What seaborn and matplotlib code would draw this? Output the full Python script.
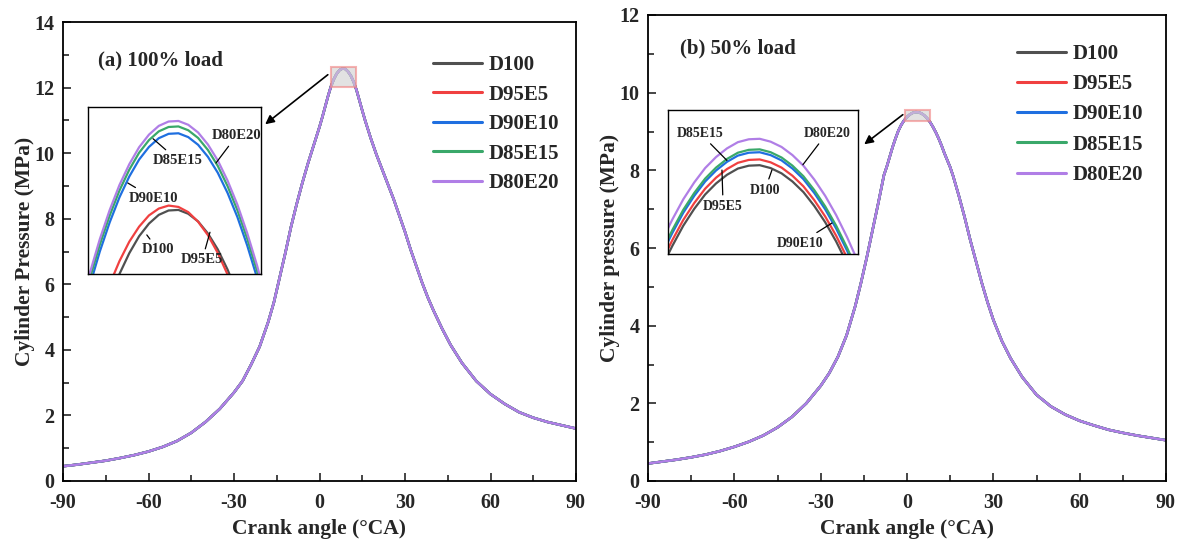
import numpy as np
import pandas as pd
import matplotlib
matplotlib.use('Agg')
import matplotlib.pyplot as plt
import seaborn as sns
from matplotlib.patches import Rectangle, FancyArrowPatch
from matplotlib.ticker import MultipleLocator

# ---------------- data ----------------
fuels = ['D100', 'D95E5', 'D90E10', 'D85E15', 'D80E20']
colors = ['#505050', '#f04040', '#1f6fe0', '#3aa86a', '#b07ee6']

# Panel (a) 100% load: main curve (all blends overlap at this scale)
main_angle_a = [-90, -85, -80, -75, -70, -65, -60, -55, -50, -45, -40, -35, -30, -27, -24, -21, -18, -16,
                -14, -12, -10, -8, -6, -4, -2, 0, 1, 2, 3, 4, 5, 6, 7, 8, 9, 10, 11, 12, 13, 14,
                15, 16, 18, 20, 22, 24, 26, 28, 30, 32, 34, 36, 38, 40, 43, 46, 50, 55, 60, 65,
                70, 75, 80, 85, 90]
main_press_a = [0.45, 0.50, 0.56, 0.62, 0.70, 0.79, 0.90, 1.04, 1.22, 1.47, 1.80, 2.20, 2.70, 3.05, 3.55, 4.10, 4.85, 5.45,
                6.20, 6.95, 7.75, 8.45, 9.10, 9.70, 10.25, 10.80, 11.10, 11.42, 11.74, 12.03, 12.25, 12.42, 12.53, 12.58, 12.57, 12.49, 12.36, 12.17, 11.92, 11.61,
                11.30, 11.00, 10.45, 9.95, 9.50, 9.05, 8.60, 8.10, 7.60, 7.05, 6.55, 6.05, 5.60, 5.20, 4.65, 4.15, 3.60, 3.05, 2.65, 2.35,
                2.10, 1.93, 1.80, 1.70, 1.60]

# Panel (a) inset: peak region per blend
inset_angle_a = [3.0, 3.5, 4.0, 4.5, 5.0, 5.5, 6.0, 6.5, 7.0, 7.5, 8.0, 8.5, 9.0, 9.5, 10.0, 10.5,
                 11.0, 11.5, 12.0, 12.5, 13.0, 13.5, 14.0]
peak_a_D100 = [11.412, 11.564, 11.700, 11.822, 11.928, 12.020, 12.096, 12.158, 12.204, 12.236, 12.252, 12.254,
               12.240, 12.212, 12.168, 12.110, 12.036, 11.948, 11.844, 11.726, 11.592, 11.444, 11.280]
peak_a_D95E5 = [11.490, 11.635, 11.766, 11.881, 11.982, 12.067, 12.138, 12.193, 12.234, 12.259, 12.270, 12.265,
                12.246, 12.211, 12.162, 12.097, 12.018, 11.923, 11.814, 11.689, 11.550, 11.395, 11.226]
peak_a_D90E10 = [11.692, 11.844, 11.980, 12.102, 12.208, 12.300, 12.376, 12.438, 12.484, 12.516, 12.532, 12.534,
                 12.520, 12.492, 12.448, 12.390, 12.316, 12.228, 12.124, 12.006, 11.872, 11.724, 11.560]
peak_a_D85E15 = [11.717, 11.869, 12.005, 12.127, 12.233, 12.325, 12.401, 12.463, 12.509, 12.541, 12.557, 12.559,
                 12.545, 12.517, 12.473, 12.415, 12.341, 12.253, 12.149, 12.031, 11.897, 11.749, 11.585]
peak_a_D80E20 = [11.737, 11.889, 12.025, 12.147, 12.253, 12.345, 12.421, 12.483, 12.529, 12.561, 12.577, 12.579,
                 12.565, 12.537, 12.493, 12.435, 12.361, 12.273, 12.169, 12.051, 11.917, 11.769, 11.605]

# Panel (b) 50% load: main curve
main_angle_b = [-90, -85, -80, -75, -70, -65, -60, -55, -50, -45, -40, -35, -30, -27, -24, -21, -18, -16,
                -14, -12, -10, -8, -7, -6, -5, -4, -3, -2, -1, 0, 1, 2, 3, 4, 5, 6, 7, 8, 9, 10, 11, 12, 13, 14,
                15, 16, 18, 20, 22, 24, 26, 28, 30, 33, 36, 40, 45, 50, 55, 60, 65, 70, 75, 80, 85, 90]
main_press_b = [0.45, 0.50, 0.55, 0.61, 0.68, 0.77, 0.88, 1.01, 1.17, 1.38, 1.65, 2.00, 2.45, 2.78, 3.20, 3.75, 4.50, 5.10,
                5.75, 6.45, 7.15, 7.88, 8.10, 8.35, 8.60, 8.82, 9.02, 9.17, 9.286, 9.374, 9.439, 9.480, 9.499, 9.494, 9.466, 9.415, 9.341, 9.244, 9.12, 8.98, 8.82, 8.64, 8.44, 8.26,
                8.08, 7.86, 7.35, 6.80, 6.20, 5.65, 5.10, 4.60, 4.15, 3.60, 3.16, 2.68, 2.22, 1.92, 1.71, 1.55, 1.43, 1.32, 1.24, 1.17, 1.11, 1.05]

# Panel (b) inset: peak region per blend
inset_angle_b = [-1.5, -1.0, -0.5, 0.0, 0.5, 1.0, 1.5, 2.0, 2.5, 3.0, 3.5, 4.0, 4.5, 5.0, 5.5, 6.0,
                 6.5, 7.0, 7.5, 8.0, 8.5]
peak_b_D100 = [9.178, 9.231, 9.277, 9.319, 9.354, 9.384, 9.407, 9.425, 9.438, 9.444, 9.445, 9.439, 9.428, 9.411,
               9.389, 9.360, 9.326, 9.286, 9.240, 9.189, 9.131]
peak_b_D95E5 = [9.190, 9.243, 9.289, 9.331, 9.366, 9.396, 9.419, 9.437, 9.450, 9.456, 9.457, 9.451, 9.440, 9.423,
                9.401, 9.372, 9.338, 9.298, 9.252, 9.201, 9.143]
peak_b_D90E10 = [9.205, 9.258, 9.304, 9.346, 9.381, 9.411, 9.434, 9.452, 9.465, 9.471, 9.472, 9.466, 9.455, 9.438,
                 9.416, 9.387, 9.353, 9.313, 9.267, 9.216, 9.158]
peak_b_D85E15 = [9.211, 9.264, 9.310, 9.352, 9.387, 9.417, 9.440, 9.458, 9.471, 9.477, 9.478, 9.472, 9.461, 9.444,
                 9.422, 9.393, 9.359, 9.319, 9.273, 9.222, 9.164]
peak_b_D80E20 = [9.233, 9.286, 9.332, 9.374, 9.409, 9.439, 9.462, 9.480, 9.493, 9.499, 9.500, 9.494, 9.483, 9.466,
                 9.444, 9.415, 9.381, 9.341, 9.295, 9.244, 9.186]

# ---------------- style ----------------
sns.set_style('ticks')
plt.rcParams['font.family'] = ['Liberation Serif', 'DejaVu Serif']
plt.rcParams['font.weight'] = 'bold'
plt.rcParams['axes.labelweight'] = 'bold'
plt.rcParams['axes.unicode_minus'] = False

W, H = 1182, 544
fig = plt.figure(figsize=(W / 100, H / 100), dpi=100)


def fx(px):
    return px / W


def fy(py):
    return 1 - py / H


def long_df(angle, series_list):
    frames = []
    for f, vals in zip(fuels, series_list):
        frames.append(pd.DataFrame({'angle': angle, 'pressure': vals, 'fuel': f}))
    return pd.concat(frames, ignore_index=True)


def style_main(ax, ymax, ylabel):
    ax.set_xlim(-90, 90)
    ax.set_ylim(0, ymax)
    ax.xaxis.set_major_locator(MultipleLocator(30))
    ax.xaxis.set_minor_locator(MultipleLocator(15))
    ax.yaxis.set_major_locator(MultipleLocator(2))
    ax.yaxis.set_minor_locator(MultipleLocator(1))
    ax.tick_params(which='both', direction='in', width=1.2, labelsize=14.5,
                   top=False, right=False)
    ax.tick_params(which='major', length=6)
    ax.tick_params(which='minor', length=4)
    ax.tick_params(axis='x', pad=9)
    ax.tick_params(axis='y', pad=6)
    for lab in ax.get_xticklabels() + ax.get_yticklabels():
        lab.set_fontweight('bold')
    for s in ax.spines.values():
        s.set_linewidth(1.3)
        s.set_color('black')
        s.set_visible(True)
    ax.set_xlabel('Crank angle (°CA)', fontsize=15.5, fontweight='bold', labelpad=4)
    ax.set_ylabel(ylabel, fontsize=15.5, fontweight='bold', labelpad=0)


def draw_inset(rect, angle, series_list, xlim, ylim):
    axi = fig.add_axes(rect)
    df = long_df(angle, series_list)
    sns.lineplot(data=df, x='angle', y='pressure', hue='fuel', hue_order=fuels,
                 palette=colors, lw=1.6, ax=axi, legend=False, estimator=None, errorbar=None)
    axi.set_xlim(*xlim)
    axi.set_ylim(*ylim)
    axi.set_xticks([])
    axi.set_yticks([])
    axi.set_xlabel('')
    axi.set_ylabel('')
    for s in axi.spines.values():
        s.set_visible(True)
        s.set_linewidth(1.0)
        s.set_color('black')
    return axi


def add_labels(axi, items, fs):
    for text, txy, pxy in items:
        axi.annotate(text, xy=pxy, xytext=txy, xycoords='axes fraction', textcoords='axes fraction',
                     ha='center', va='center', fontsize=fs, fontweight='bold',
                     arrowprops=dict(arrowstyle='-', color='black', lw=0.9,
                                     shrinkA=1, shrinkB=0))


handles = [plt.Line2D([], [], color=c, lw=2.2) for c in colors]
leg_prop = {'family': 'Liberation Serif', 'weight': 'bold', 'size': 15}

# ---------------- panel (a) ----------------
ax_a = fig.add_axes([fx(63), fy(481), fx(576) - fx(63), fy(22) - fy(481)])
df_a = long_df(main_angle_a, [main_press_a] * 5)
sns.lineplot(data=df_a, x='angle', y='pressure', hue='fuel', hue_order=fuels,
             palette=colors, lw=1.8, ax=ax_a, legend=False, estimator=None, errorbar=None)
style_main(ax_a, 14, 'Cylinder Pressure (MPa)')
ax_a.add_patch(Rectangle((3.9, 12.02), 8.8, 0.61, facecolor='#cfcfcf', alpha=0.6,
                         edgecolor='#f08080', lw=1.5, zorder=5))
fig.legend(handles, fuels, loc='upper left', bbox_to_anchor=(fx(433), fy(55)),
           frameon=False, prop=leg_prop, handlelength=2.35, handletextpad=0.3,
           labelspacing=0.46, borderpad=0, borderaxespad=0)
fig.text(fx(98), fy(60), '(a) 100% load', fontsize=15, fontweight='bold', va='center', ha='left')

axi_a = draw_inset([fx(88), fy(274), fx(261) - fx(88), fy(107) - fy(274)], inset_angle_a,
                   [peak_a_D100, peak_a_D95E5, peak_a_D90E10, peak_a_D85E15, peak_a_D80E20],
                   (3.9, 12.7), (12.02, 12.63))
add_labels(axi_a, [
    ('D80E20', (0.86, 0.83), (0.74, 0.665)),
    ('D85E15', (0.52, 0.68), (0.376, 0.81)),
    ('D90E10', (0.376, 0.455), (0.23, 0.545)),
    ('D100', (0.405, 0.144), (0.34, 0.234)),
    ('D95E5', (0.66, 0.084), (0.705, 0.25)),
], 10.5)
fig.add_artist(FancyArrowPatch(
    (fx(330), fy(73)), (fx(263), fy(126)), transform=fig.transFigure,
    arrowstyle='-|>', mutation_scale=13, color='black', lw=1.2))

# ---------------- panel (b) ----------------
ax_b = fig.add_axes([fx(648), fy(481), fx(1166) - fx(648), fy(15) - fy(481)])
df_b = long_df(main_angle_b, [main_press_b] * 5)
sns.lineplot(data=df_b, x='angle', y='pressure', hue='fuel', hue_order=fuels,
             palette=colors, lw=1.8, ax=ax_b, legend=False, estimator=None, errorbar=None)
style_main(ax_b, 12, 'Cylinder pressure (MPa)')
ax_b.add_patch(Rectangle((-0.7, 9.26), 8.7, 0.30, facecolor='#cfcfcf', alpha=0.6,
                         edgecolor='#f08080', lw=1.5, zorder=5))
fig.legend(handles, fuels, loc='upper left', bbox_to_anchor=(fx(1017), fy(44)),
           frameon=False, prop=leg_prop, handlelength=2.35, handletextpad=0.3,
           labelspacing=0.49, borderpad=0, borderaxespad=0)
fig.text(fx(680), fy(48), '(b) 50% load', fontsize=15, fontweight='bold', va='center', ha='left')

axi_b = draw_inset([fx(668), fy(254), fx(858) - fx(668), fy(110) - fy(254)], inset_angle_b,
                   [peak_b_D100, peak_b_D95E5, peak_b_D90E10, peak_b_D85E15, peak_b_D80E20],
                   (-0.7, 8.0), (9.26, 9.56))
add_labels(axi_b, [
    ('D85E15', (0.168, 0.84), (0.31, 0.65)),
    ('D80E20', (0.837, 0.84), (0.71, 0.62)),
    ('D100', (0.51, 0.444), (0.547, 0.583)),
    ('D95E5', (0.29, 0.333), (0.284, 0.583)),
    ('D90E10', (0.695, 0.076), (0.863, 0.215)),
], 10)
fig.add_artist(FancyArrowPatch(
    (fx(905), fy(113)), (fx(862), fy(146)), transform=fig.transFigure,
    arrowstyle='-|>', mutation_scale=13, color='black', lw=1.2))

fig.savefig('out.png', dpi=100)
